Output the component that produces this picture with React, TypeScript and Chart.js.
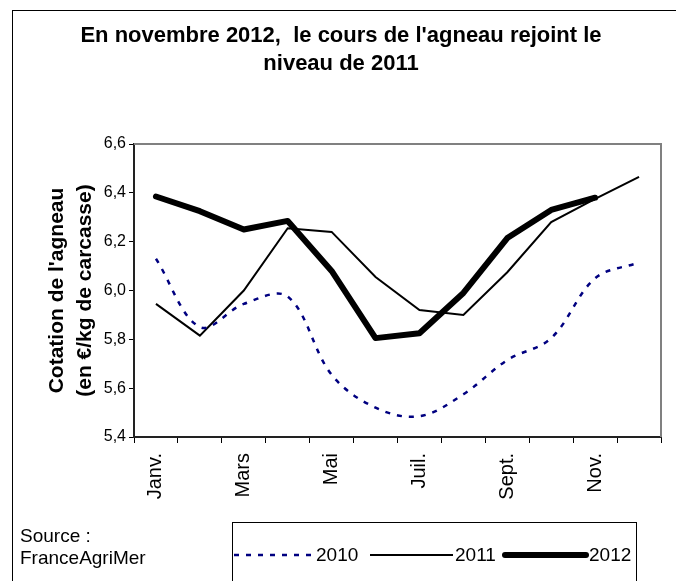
import { useEffect, useRef } from "react";
import { Chart, registerables } from "chart.js";

Chart.register(...registerables);

const months = ["Janv.", "Févr.", "Mars", "Avr.", "Mai", "Juin", "Juil.", "Août", "Sept.", "Oct.", "Nov.", "Déc."];
const yTicks = [5.4, 5.6, 5.8, 6.0, 6.2, 6.4, 6.6];
const series2010 = [6.13, 5.85, 5.945, 5.975, 5.655, 5.52, 5.485, 5.575, 5.715, 5.805, 6.05, 6.115];
const series2011 = [5.945, 5.815, 6.0, 6.255, 6.24, 6.055, 5.92, 5.9, 6.075, 6.28, 6.375, 6.465];
const series2012 = [6.385, 6.325, 6.25, 6.285, 6.08, 5.805, 5.825, 5.99, 6.215, 6.33, 6.38, null];
const seriesNames = ["2010", "2011", "2012"];
const titleLines = ["En novembre 2012,  le cours de l'agneau rejoint le", "niveau de 2011"];
const yTitleLines = ["Cotation de l'agneau", "(en €/kg de carcasse)"];
const sourceLines = ["Source :", "FranceAgriMer"];

const FONT = "'Liberation Sans', Arial, sans-serif";

const decorPlugin = {
  id: "decor",
  beforeDatasetsDraw(chart: any) {
    const { ctx, chartArea: a } = chart;
    ctx.save();
    ctx.strokeStyle = "#808080";
    ctx.lineWidth = 2;
    ctx.beginPath();
    ctx.moveTo(a.left, a.top);
    ctx.lineTo(a.right, a.top);
    ctx.lineTo(a.right, a.bottom);
    ctx.stroke();
    ctx.restore();
  },
  afterDraw(chart: any) {
    const { ctx, chartArea: a } = chart;
    ctx.save();
    // outer frame
    ctx.strokeStyle = "#000";
    ctx.lineWidth = 1;
    ctx.strokeRect(12.5, 10.5, 700, 700);
    // title
    ctx.fillStyle = "#000";
    ctx.textAlign = "center";
    ctx.textBaseline = "middle";
    ctx.font = `bold 22px ${FONT}`;
    ctx.fillText(titleLines[0], 341, 36);
    ctx.fillText(titleLines[1], 341, 64);
    // y title
    const cy = (a.top + a.bottom) / 2;
    ctx.font = `bold 21px ${FONT}`;
    ctx.save();
    ctx.translate(57, cy);
    ctx.rotate(-Math.PI / 2);
    ctx.fillText(yTitleLines[0], 0, 0);
    ctx.restore();
    ctx.save();
    ctx.translate(85, cy);
    ctx.rotate(-Math.PI / 2);
    ctx.fillText(yTitleLines[1], 0, 0);
    ctx.restore();
    // source
    ctx.textAlign = "left";
    ctx.font = `19px ${FONT}`;
    ctx.fillText(sourceLines[0], 20, 537);
    ctx.fillText(sourceLines[1], 20, 559);
    // legend box
    ctx.strokeStyle = "#000";
    ctx.lineWidth = 1;
    ctx.strokeRect(232.5, 522.5, 404, 100);
    const ly = 555;
    const items = [
      { x0: 234, x1: 315, tx: 316 },
      { x0: 370, x1: 453, tx: 455 },
      { x0: 505, x1: 586, tx: 589 },
    ];
    chart.data.datasets.forEach((ds: any, i: number) => {
      const it = items[i];
      ctx.save();
      ctx.strokeStyle = ds.borderColor;
      ctx.lineWidth = ds.borderWidth;
      ctx.setLineDash(ds.borderDash || []);
      ctx.lineCap = ds.borderCapStyle || "butt";
      ctx.beginPath();
      ctx.moveTo(it.x0, ly);
      ctx.lineTo(it.x1, ly);
      ctx.stroke();
      ctx.restore();
      ctx.font = `19px ${FONT}`;
      ctx.fillStyle = "#000";
      ctx.fillText(ds.label, it.tx, ly + 1);
    });
    ctx.restore();
  },
};

export default function App() {
  const ref = useRef<HTMLCanvasElement>(null);
  useEffect(() => {
    document.body.style.margin = "0";
    const chart = new Chart(ref.current!, {
      type: "line",
      data: {
        labels: months,
        datasets: [
          {
            label: seriesNames[0],
            data: series2010,
            borderColor: "#000080",
            borderWidth: 2.5,
            borderDash: [5, 7],
            tension: 0.35,
            pointRadius: 0,
          },
          {
            label: seriesNames[1],
            data: series2011,
            borderColor: "#000",
            borderWidth: 2,
            tension: 0,
            pointRadius: 0,
          },
          {
            label: seriesNames[2],
            data: series2012,
            borderColor: "#000",
            borderWidth: 6,
            borderCapStyle: "round",
            borderJoinStyle: "round",
            tension: 0,
            pointRadius: 0,
          },
        ] as any,
      },
      options: {
        animation: false,
        responsive: false,
        layout: { padding: { top: 144, right: 15, left: 0, bottom: 0 } },
        plugins: { legend: { display: false }, title: { display: false }, tooltip: { enabled: false } },
        scales: {
          x: {
            type: "category",
            offset: true,
            grid: { display: true, drawOnChartArea: false, offset: true, tickLength: 6, color: "#000", lineWidth: 1 },
            border: { color: "#222", width: 2 },
            ticks: {
              autoSkip: false,
              maxRotation: 90,
              minRotation: 90,
              padding: 10,
              color: "#000",
              font: { family: FONT, size: 20 },
              callback: (_v: any, i: number) => (i % 2 === 0 ? months[i] : ""),
            },
            afterFit: (s: any) => {
              s.height = 144;
            },
          },
          y: {
            min: yTicks[0],
            max: yTicks[yTicks.length - 1],
            afterBuildTicks: (s: any) => {
              s.ticks = yTicks.map((v) => ({ value: v }));
            },
            grid: { display: true, drawOnChartArea: false, tickLength: 5, color: "#000", lineWidth: 1 },
            border: { color: "#222", width: 2 },
            ticks: {
              padding: 3,
              color: "#000",
              font: { family: FONT, size: 16 },
              callback: (v: any) => Number(v).toFixed(1).replace(".", ","),
            },
            afterFit: (s: any) => {
              s.width = 134;
            },
          },
        } as any,
      },
      plugins: [decorPlugin],
    });
    return () => chart.destroy();
  }, []);
  return (
    <div style={{ position: "absolute", left: 0, top: 0, width: 676, height: 581, background: "#fff" }}>
      <canvas ref={ref} width={676} height={581} style={{ display: "block" }} />
    </div>
  );
}
